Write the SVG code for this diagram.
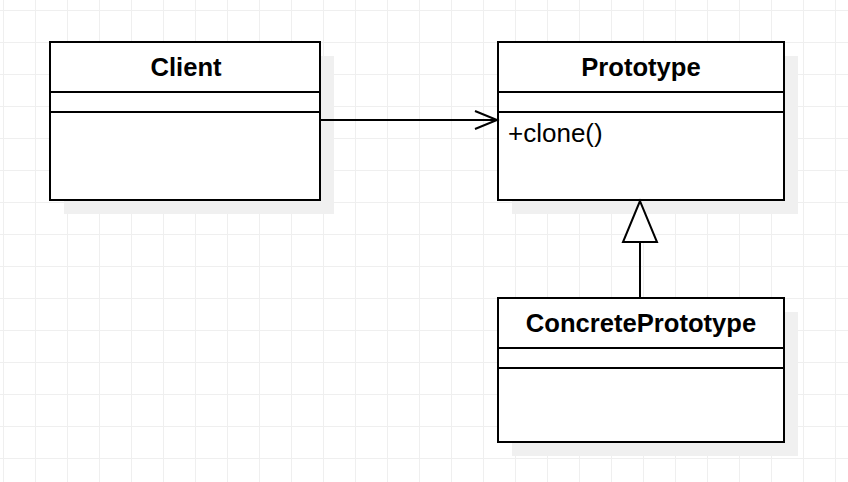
<svg xmlns="http://www.w3.org/2000/svg" width="848" height="482" viewBox="0 0 848 482">
<defs>
<pattern id="grid" x="3" y="10" width="32" height="32" patternUnits="userSpaceOnUse">
<path d="M0 0.5H32M0.5 0V32" fill="none" stroke="#efefef" stroke-width="1"/>
</pattern>
<marker id="open" markerWidth="26" markerHeight="22" refX="23" refY="11" orient="auto" markerUnits="userSpaceOnUse">
<path d="M1 2L23 11L1 20" fill="none" stroke="#000" stroke-width="2"/>
</marker>
</defs>
<style>
.shadow{fill:#f0f0f0}
.box{fill:#fff;stroke:#000;stroke-width:2}
.div{stroke:#000;stroke-width:2}
.title{font-family:"Liberation Sans",Arial,sans-serif;font-weight:bold;font-size:25.6px;text-anchor:middle;fill:#000}
.op{font-family:"Liberation Sans",Arial,sans-serif;font-size:26px;fill:#000}
.edge{fill:none;stroke:#000;stroke-width:2}
</style>
<rect width="848" height="482" fill="#fff"/>
<rect width="848" height="482" fill="url(#grid)"/>
<g id="client">
<rect class="shadow" x="64" y="56" width="270" height="158"/>
<rect class="box" x="50" y="42" width="270" height="158"/>
<line class="div" x1="50" y1="92" x2="320" y2="92"/>
<line class="div" x1="50" y1="112" x2="320" y2="112"/>
<text class="title" x="186" y="76">Client</text>
</g>
<g id="prototype">
<rect class="shadow" x="512" y="56" width="286" height="158"/>
<rect class="box" x="498" y="42" width="286" height="158"/>
<line class="div" x1="498" y1="92" x2="784" y2="92"/>
<line class="div" x1="498" y1="112" x2="784" y2="112"/>
<text class="title" x="641" y="76">Prototype</text>
<text class="op" x="508" y="142">+clone()</text>
</g>
<g id="concreteprototype">
<rect class="shadow" x="512" y="312" width="286" height="144"/>
<rect class="box" x="498" y="298" width="286" height="144"/>
<line class="div" x1="498" y1="348" x2="784" y2="348"/>
<line class="div" x1="498" y1="368" x2="784" y2="368"/>
<text class="title" x="641" y="332">ConcretePrototype</text>
</g>
<g id="connectors">
<line class="edge" x1="321" y1="120" x2="497" y2="120" marker-end="url(#open)"/>
<line class="edge" x1="640" y1="242" x2="640" y2="297"/>
<polygon points="640,201 623,242 657,242" fill="#fff" stroke="#000" stroke-width="2"/>
</g>
</svg>
